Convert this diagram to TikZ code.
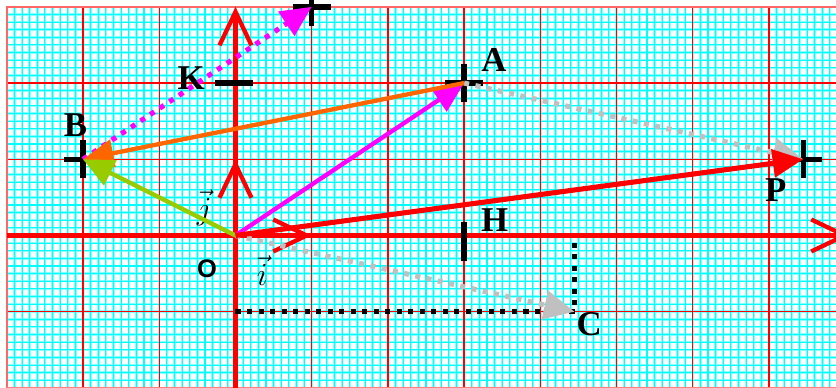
\documentclass[tikz,border=0pt]{standalone}
\usepackage{fontspec}
\setmainfont{Liberation Serif}
\newfontfamily\labsans{Liberation Sans}
\usetikzlibrary{arrows.meta}
\definecolor{gridcyan}{RGB}{0,255,255}
\definecolor{gridred}{RGB}{255,0,0}
\definecolor{vecmagenta}{RGB}{255,0,255}
\definecolor{orangevec}{RGB}{255,102,0}
\definecolor{greenvec}{RGB}{153,204,0}
\definecolor{grayvec}{RGB}{192,192,192}

\begin{document}
\begin{tikzpicture}[scale=1.0,
  axisline/.style={gridred,line width=1.6pt,-{Straight Barb[length=4.4mm,width=4.2mm,line width=1.6pt]}},
  vec/.style={line width=1.6pt,-{Triangle[length=4mm,width=3.6mm]}},
  dotline/.style={line width=1.9pt,dash pattern=on 1.9pt off 2.4pt},
  crossbar/.style={line width=2pt},
  lab/.style={font=\fontsize{13}{15}\selectfont\bfseries}]
  \fill[white] (-3.09,-1.99) rectangle (7.88,3.09);
  \useasboundingbox (-3.09,-1.99) rectangle (7.88,3.09);
  \draw[gridcyan!45,line width=0.9pt,step=0.1] (-3,-2) grid (7.9,3);
  \draw[gridcyan,line width=0.4pt,step=0.1] (-3,-2) grid (7.9,3);
  \draw[gridred,line width=0.5pt,step=1] (-3,-2) grid (7.9,3);
  \draw[gridred!60,line width=0.9pt] (-3,-2) -- (-3,3) -- (7.9,3);
  \draw[gridred!50,line width=0.5pt] (-3,-2) -- (7.9,-2);

  \coordinate (O) at (0,0);
  \coordinate (I) at (1,0);
  \coordinate (J) at (0,1);
  \coordinate (A) at (3,2);
  \coordinate (B) at (-2,1);
  \coordinate (Q) at (1,3);
  \coordinate (K) at (0,2);
  \coordinate (H) at (3,0);
  \coordinate (C) at (4.45,-1);
  \coordinate (P) at (7.45,1);
  \coordinate (C0) at (0,-1);
  \coordinate (C1) at (4.45,-0.1);
  \coordinate (X0) at (-3,0);
  \coordinate (X1) at (8.06,0);
  \coordinate (Y0) at (0,-2);
  \coordinate (Y1) at (0,3);

  \draw[axisline] (X0) -- (X1);
  \draw[axisline] (Y0) -- (Y1);
  \draw[axisline] (O) -- (I);
  \draw[axisline] (O) -- (J);

  \draw[dotline] (C0) -- (C) -- (C1);
  \foreach \p in {A,B,P,Q} {
    \draw[crossbar] ([xshift=-2.5mm]\p) -- ([xshift=2.5mm]\p);
    \draw[crossbar] ([yshift=-2.5mm]\p) -- ([yshift=2.5mm]\p);
  }
  \draw[crossbar] ([xshift=-2.7mm]K) -- ([xshift=2.3mm]K);
  \draw[crossbar] ([yshift=1.8mm]H) -- ([yshift=-3.3mm]H);

  \node[lab] (labA) at (3.39,2.30) {A};
  \node[lab] (labB) at (-2.10,1.45) {B};
  \node[lab] (labK) at (-0.58,2.07) {K};
  \node[lab] (labP) at (7.09,0.60) {P};
  \node[lab] (labH) at (3.40,0.20) {H};
  \node[lab] (labC) at (4.64,-1.16) {C};
  \node[font=\labsans\bfseries\fontsize{9.5}{11}\selectfont] (labO) at (-0.375,-0.43) {O};
  \node[font=\fontsize{13}{15}\selectfont] (labi) at (0.35,-0.46) {$\vec{i}$};
  \node[font=\fontsize{13}{15}\selectfont] (labj) at (-0.41,0.36) {$\vec{j}$};

  \draw[dotline,grayvec,-{Triangle[length=4mm,width=3.7mm]}] (O) -- (C);
  \draw[dotline,grayvec,-{Triangle[length=4mm,width=3.7mm]}] (A) -- (P);
  \draw[dotline,vecmagenta,-{Triangle[length=4mm,width=3.7mm]}] (B) -- (Q);

  \draw[vec,vecmagenta] (O) -- (A);
  \draw[vec,orangevec] (A) -- (B);
  \draw[vec,greenvec] (O) -- (B);
  \draw[vec,gridred,line width=1.9pt] (O) -- (P);
\end{tikzpicture}
\end{document}
